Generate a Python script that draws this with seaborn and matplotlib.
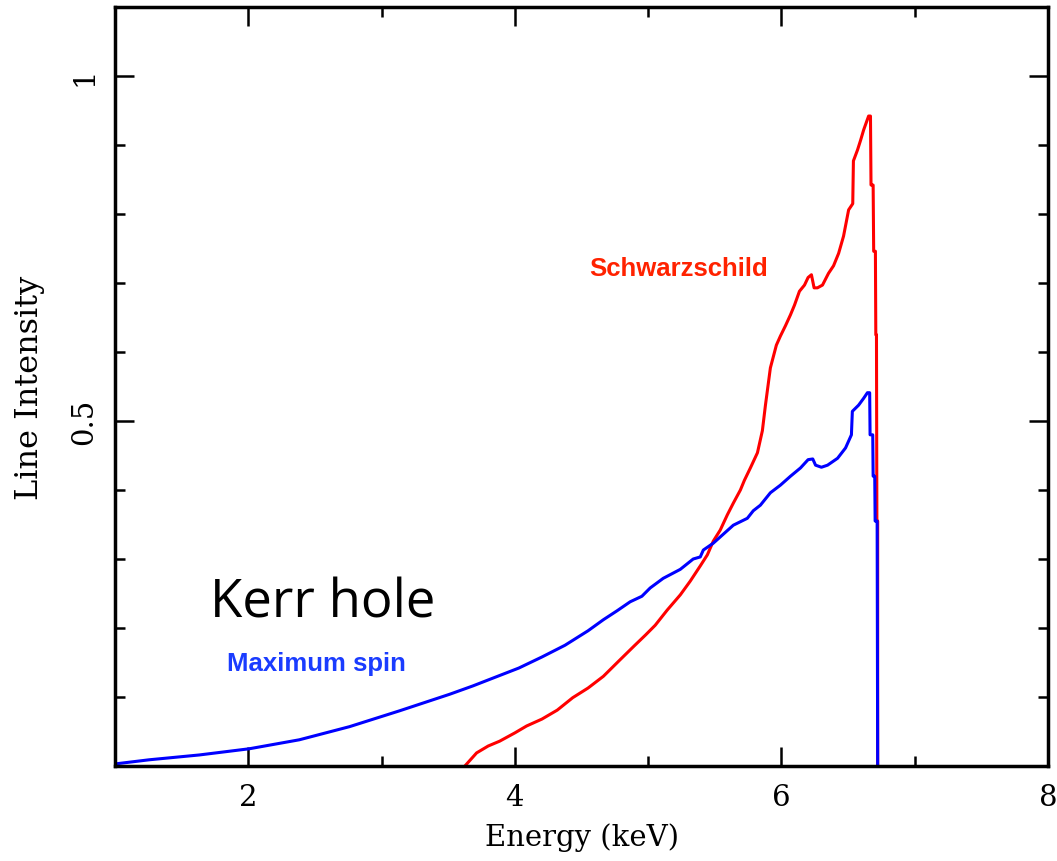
import numpy as np
import pandas as pd
import matplotlib
matplotlib.use("Agg")
import matplotlib.pyplot as plt
import seaborn as sns
from matplotlib.ticker import MultipleLocator, FixedLocator

# Kerr (maximum spin) line profile, energy (keV) and intensity
kerr_energy = [1.00, 1.256, 1.632, 2.008, 2.383, 2.759, 3.135, 3.511, 3.684, 3.857,
               4.03, 4.203, 4.376, 4.549, 4.664, 4.767, 4.865, 4.953, 5.015, 5.113,
               5.241, 5.338, 5.391, 5.414, 5.489, 5.564, 5.639, 5.744, 5.789, 5.842,
               5.917, 5.992, 6.068, 6.143, 6.200, 6.235, 6.256, 6.300, 6.346, 6.421,
               6.481, 6.525, 6.532, 6.579, 6.617, 6.645, 6.662, 6.665, 6.685, 6.688,
               6.700, 6.703, 6.718, 6.722]
kerr_flux = [0.003, 0.009, 0.016, 0.025, 0.038, 0.057, 0.080, 0.104, 0.116, 0.129,
             0.142, 0.158, 0.175, 0.196, 0.212, 0.225, 0.238, 0.246, 0.258, 0.272,
             0.285, 0.300, 0.303, 0.313, 0.323, 0.336, 0.349, 0.359, 0.370, 0.378,
             0.396, 0.407, 0.420, 0.432, 0.444, 0.445, 0.436, 0.433, 0.436, 0.446,
             0.461, 0.480, 0.514, 0.523, 0.533, 0.541, 0.541, 0.480, 0.480, 0.420,
             0.420, 0.355, 0.355, 0.0]

# Schwarzschild line profile
schw_energy = [3.625, 3.713, 3.800, 3.886, 4.000, 4.088, 4.203, 4.318, 4.434, 4.549,
               4.664, 4.779, 4.895, 4.981, 5.053, 5.143, 5.241, 5.316, 5.391, 5.444,
               5.489, 5.541, 5.594, 5.639, 5.692, 5.722, 5.767, 5.820, 5.857, 5.880,
               5.917, 5.962, 5.992, 6.030, 6.068, 6.098, 6.135, 6.173, 6.200, 6.225,
               6.245, 6.270, 6.308, 6.353, 6.391, 6.429, 6.466, 6.504, 6.535, 6.540,
               6.571, 6.594, 6.617, 6.654, 6.668, 6.672, 6.688, 6.692, 6.705, 6.708,
               6.713, 6.716, 6.722, 6.722]
schw_flux = [0.0, 0.019, 0.029, 0.036, 0.048, 0.058, 0.068, 0.081, 0.099, 0.113,
             0.130, 0.152, 0.174, 0.190, 0.204, 0.226, 0.248, 0.268, 0.290, 0.306,
             0.326, 0.342, 0.364, 0.381, 0.400, 0.414, 0.432, 0.454, 0.486, 0.523,
             0.577, 0.610, 0.623, 0.638, 0.654, 0.668, 0.688, 0.697, 0.708, 0.712,
             0.693, 0.693, 0.697, 0.714, 0.725, 0.743, 0.768, 0.806, 0.815, 0.877,
             0.893, 0.907, 0.922, 0.942, 0.942, 0.842, 0.842, 0.746, 0.746, 0.625,
             0.625, 0.355, 0.355, 0.0]

x_major = [2, 4, 6, 8]
x_tick_labels = ["2", "4", "6", "8"]
y_major = [0.5, 1.0]
y_tick_labels = ["0.5", "1"]

sns.set_style("ticks")
plt.rcParams["font.family"] = ["DejaVu Serif"]

fig = plt.figure(figsize=(10.57, 8.62), dpi=100)
ax = fig.add_axes([0.1088, 0.1102, 0.8827, 0.8805])

df_s = pd.DataFrame({"E": schw_energy, "I": schw_flux})
df_k = pd.DataFrame({"E": kerr_energy, "I": kerr_flux})
sns.lineplot(data=df_s, x="E", y="I", ax=ax, color="#ff0000", lw=2.2,
             estimator=None, sort=False)
sns.lineplot(data=df_k, x="E", y="I", ax=ax, color="#0000ff", lw=2.2,
             estimator=None, sort=False)

ax.set_xlim(1, 8)
ax.set_ylim(0, 1.1)
ax.xaxis.set_major_locator(FixedLocator(x_major))
ax.set_xticklabels(x_tick_labels)
ax.xaxis.set_minor_locator(MultipleLocator(1))
ax.yaxis.set_major_locator(FixedLocator(y_major))
ax.set_yticklabels(y_tick_labels, rotation=90, va="center")
ax.yaxis.set_minor_locator(MultipleLocator(0.1))

ax.tick_params(which="both", direction="in", top=True, right=True, width=1.8,
               labelsize=21, color="black", labelcolor="black")
ax.tick_params(axis="x", which="major", length=14, pad=12)
ax.tick_params(axis="y", which="major", length=14, pad=12)
ax.tick_params(which="minor", length=7)
for s in ax.spines.values():
    s.set_linewidth(2.5)
    s.set_color("black")

ax.set_xlabel("Energy (keV)", fontsize=21, labelpad=8, color="black")
ax.set_ylabel("Line Intensity", fontsize=23, labelpad=18, color="black")

ax.text(5.226, 0.722, "Schwarzschild", color="#ff2200", fontsize=18.5,
        fontweight="bold", family=["Liberation Sans"], ha="center", va="center")
ax.text(2.56, 0.236, "Kerr hole", color="black", fontsize=38, fontweight="medium",
        family=["Open Sans"], ha="center", va="center")
ax.text(2.515, 0.149, "Maximum spin", color="#1a3cff", fontsize=18.5,
        fontweight="bold", family=["Liberation Sans"], ha="center", va="center")

fig.savefig("out.png", dpi=100)
